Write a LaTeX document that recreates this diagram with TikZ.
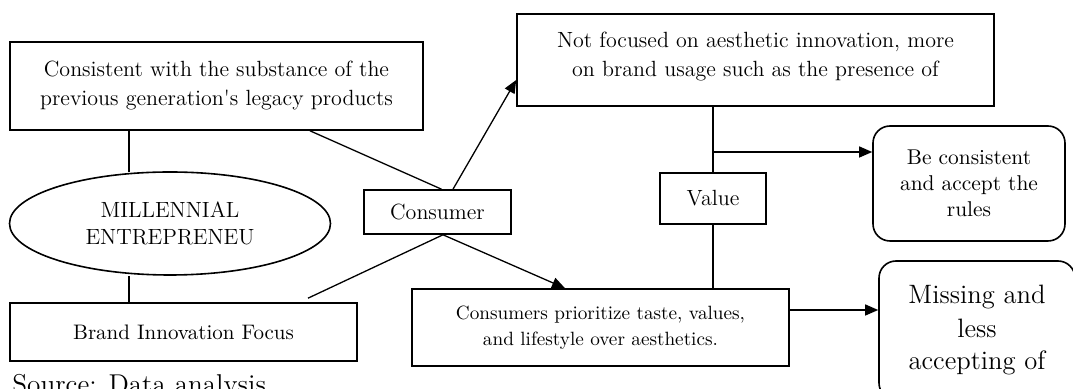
\documentclass[tikz,border=0pt]{standalone}
\usepackage{textcomp}
\usepackage{tikz}
\usetikzlibrary{arrows.meta,shapes.geometric}
\tikzset{
  fbox/.style   ={rectangle, draw=black, line width=0.8pt, inner sep=2pt, align=center,
                  font=\fontsize{11}{14.5}\selectfont},
  fround/.style ={fbox, rounded corners=8.5pt},
  fellipse/.style={ellipse, draw=black, line width=0.8pt, inner sep=0pt, align=center,
                  font=\fontsize{11}{13.5}\selectfont},
  fline/.style  ={line width=0.65pt, black},
  farrow/.style ={fline, -{Triangle[length=6.5pt,width=5.5pt]}},
}

\begin{document}
\begin{tikzpicture}[x=0.5pt, y=-0.5pt]
  \useasboundingbox (0,0) rectangle (1073,389);
  % left column
  \node[fbox, minimum width=206.5pt, minimum height=44pt] (legacy) at (216.5,86)
    {Consistent with the substance of the\\previous generation\textquotesingle s legacy products};
  \node[fellipse, minimum width=160.5pt, minimum height=51.5pt] (founder) at (170,223.5)
    {MILLENNIAL\\ENTREPRENEU};
  \node[fbox, minimum width=173.5pt, minimum height=29pt, font=\fontsize{10.5}{13}\selectfont] (focus) at (183.5,332)
    {Brand Innovation Focus};
  % middle
  \node[fbox, minimum width=73.5pt, minimum height=22pt] (consumer) at (437.5,212) {Consumer};
  \node[fbox, minimum width=238.5pt, minimum height=46pt, text depth=6pt] (usage) at (755.5,60)
    {Not focused on aesthetic innovation, more\\on brand usage such as the presence of};
  \node[fbox, minimum width=53pt, minimum height=25.5pt] (value) at (713,198.5) {Value};
  \node[fbox, minimum width=188.5pt, minimum height=38.5pt, font=\fontsize{9.6}{13}\selectfont] (taste) at (600.5,327.5)
    {Consumers prioritize taste, values,\\and lifestyle over aesthetics.};
  % outcomes
  \node[fround, minimum width=96pt, minimum height=57.5pt, font=\fontsize{10.7}{13}\selectfont] (rules) at (969,183.5)
    {Be consistent\\and accept the\\rules};
  \node[fround, minimum width=98pt, minimum height=69.5pt, font=\fontsize{13.3}{16.5}\selectfont] (missing) at (977,330.5)
    {Missing and\\less\\accepting of};
  \node[anchor=base west, inner sep=0pt, font=\fontsize{13.6}{16}\selectfont] (source) at (12,394)
    {Source: Data analysis};

  % connectors
  \draw[fline] ([xshift=-20.5pt]legacy.south -| founder.north) -- ++(0,41);
  \draw[fline] ([xshift=-20.5pt]founder.south) -- ([xshift=-20.5pt]founder.south |- focus.north);
  \draw[fline] ([xshift=46.75pt]legacy.south) -- ([xshift=2pt]consumer.north);
  \draw[farrow] ([xshift=7.75pt]consumer.north) -- ([yshift=-10pt]usage.west);
  \draw[fline] ([xshift=2.75pt]consumer.south) -- ([xshift=62.25pt,yshift=2pt]focus.north);
  \draw[farrow] ([xshift=2.75pt]consumer.south) -- ([xshift=-17.75pt]taste.north);
  \draw[fline] (usage.south -| value.north) -- (value.north);
  \coordinate (fork) at ([yshift=15.75pt]rules.west);
  \draw[farrow] (fork -| value.north) -- (fork);
  \draw[fline] (value.south) -- (value.south |- taste.north);
  \coordinate (out) at ([yshift=8.75pt]taste.east);
  \draw[farrow] (out) -- (out -| missing.west);
\end{tikzpicture}
\end{document}
